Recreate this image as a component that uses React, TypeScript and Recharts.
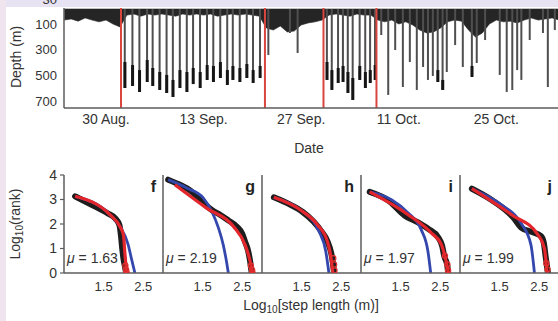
import React from 'react';
import { ComposedChart, Area, Bar, Line, Scatter, XAxis, YAxis, ReferenceLine } from 'recharts';

const FONT = '"Liberation Sans", Arial, Helvetica, sans-serif';
const TEXT = '#333333';
const AXIS = '#5c5c5c';

// ---------------- top panel: dive depth record ----------------
const dateTickDays = [0, 14, 28, 42, 56]; // days after 30 Aug.
const dateTickLabels = ['30 Aug.', '13 Sep.', '27 Sep.', '11 Oct.', '25 Oct.'];
const depthTickValues = [30, 100, 300, 500, 700];
const phaseChangeDays = [2.15, 22.8, 31.2, 38.8];
const surfaceDepth = 58;
const shallowScale = 2.78; // the depth axis is stretched above 100 m

const bandDays = [-6, -5, -4, -3, -2, -1, 0, 1, 2, 3, 4, 5, 6, 7, 8, 9, 10, 11, 12, 13, 14, 15, 16, 17, 18, 19, 20, 21, 22, 23, 24, 25, 26, 27, 28, 29, 30, 31, 32, 33, 34, 35, 36, 37, 38, 39, 40, 41, 42, 43, 44, 45, 46, 47, 48, 49, 50, 51, 52, 53, 54, 55, 56, 57, 58, 59, 60, 61, 62, 63, 64, 65, 66, 67, 68, 69, 70, 71];
const bandBottomDepth = [
  89, 86, 92, 83, 89, 94, 89, 100, 123,
  75, 72, 78, 72, 75, 72, 75, 78, 72, 75, 72, 75, 72, 78, 75, 72, 75, 72, 75, 78,
  131, 147, 116, 162, 155, 108, 97, 94, 89,
  75, 72, 75, 78, 72, 75, 75,
  89, 94, 89, 100, 94, 108, 147, 170, 162, 131, 94, 89, 92, 147, 201, 170, 100, 89, 94, 92, 97, 89, 83, 89, 86, 83, 89, 80, 86, 83, 89, 83, 83,
];

const diveDays = [
  2.7, 3.8, 4.8, 5.9, 6.7, 7.7, 8.7, 9.6, 10.6, 11.6, 12.5, 13.5, 14.5, 15.4, 16.4, 17.4, 18.2, 19.2, 20.2, 21.1, 22.1,
  23.3, 26.4, 27.5,
  31.7, 32.4, 33.3, 34.0, 34.7, 35.4, 36.4, 37.2, 37.9, 38.6,
  39.5, 40.5, 41.5, 42.6, 43.6, 44.6, 45.5, 46.2, 46.9, 47.6, 48.3, 48.9, 50.1, 51.2, 52.5, 53.2, 54.4, 56.5, 57.5, 58.3, 59.0, 59.6, 60.8, 62.7, 63.4, 64.4,
];
const diveMaxDepth = [
  599, 583, 630, 552, 583, 614, 638, 669, 599, 630, 568, 599, 536, 552, 521, 575, 536, 552, 521, 560, 521,
  342, 170, 326,
  536, 614, 560, 552, 638, 692, 536, 599, 560, 536,
  186, 653, 303, 591, 396, 614, 435, 536, 505, 552, 614, 474, 264, 435, 513, 404, 225, 497, 630, 614, 459, 536, 225, 170, 591, 147,
];
const diveBottomTop: (number | null)[] = [
  396, 420, 459, 381, 443, 474, 497, 536, 459, 474, 443, 474, 420, 427, 396, 459, 427, 443, 412, 459, 427,
  null, null, null,
  396, 459, 443, 427, 474, 521, 427, 474, 459, 420,
  null, null, null, null, null, null, null, null, null, 459, 536, null, null, null, 427, null, null, null, null, null, null, null, null, null, null, null,
];

// ---------------- bottom panels: rank vs step length ----------------
const panelLetters = ['f', 'g', 'h', 'i', 'j'];
const panelMu = ['1.63', '2.19', '', '1.97', '1.99'];
const stepTicks = [1.5, 2.5];
const rankTicks = [0, 1, 2, 3, 4];

const fObserved = [[0.78, 3.13], [1.2, 2.78], [1.6, 2.44], [1.8, 2.22], [1.9, 1.95], [1.94, 1.5], [1.97, 1.0], [2.0, 0.6], [2.04, 0.25], [2.07, 0]];
const fTruncated = [[0.78, 3.13], [1.66, 2.38], [1.91, 1.9], [2.0, 1.56], [2.04, 0.75], [2.08, 0]];
const fExponential = [[0.78, 3.13], [1.66, 2.38], [1.91, 1.9], [2.12, 1.16], [2.2, 0.61], [2.29, 0]];
const fTail = [[2.05, 0.3], [2.07, 0.12], [2.08, 0.02]];

const gObserved = [[0.63, 3.81], [0.9, 3.62], [1.2, 3.35], [1.52, 2.85], [1.75, 2.55], [1.94, 2.38], [2.15, 2.15], [2.36, 1.9], [2.5, 1.6], [2.57, 1.29], [2.65, 0.9], [2.7, 0.48], [2.74, 0]];
const gTruncated = [[0.8, 3.6], [1.6, 2.65], [2.28, 1.9], [2.57, 1.16], [2.7, 0.48], [2.76, 0]];
const gExponential = [[0.63, 3.81], [1.1, 3.47], [1.52, 3.06], [1.73, 2.52], [1.9, 1.84], [2.02, 1.16], [2.1, 0.5], [2.15, 0]];
const gTail = [[2.72, 0.3], [2.75, 0.12], [2.76, 0.02]];

const hObserved = [[0.8, 3.09], [1.2, 2.8], [1.52, 2.5], [1.8, 2.1], [2.0, 1.7], [2.15, 1.3], [2.25, 0.8], [2.3, 0.3], [2.32, 0]];
const hTruncated = [[0.8, 3.09], [1.52, 2.52], [1.9, 1.97], [2.15, 1.29], [2.23, 0.75], [2.29, 0]];
const hExponential = [[0.8, 3.09], [1.52, 2.52], [1.8, 2.1], [1.94, 1.7], [2.11, 0.89], [2.19, 0]];
const hTail = [[2.3, 0.6], [2.32, 0.35], [2.33, 0.1]];

const iObserved = [[0.72, 3.31], [1.2, 2.95], [1.6, 2.35], [1.9, 2.1], [2.2, 1.8], [2.45, 1.45], [2.55, 1.1], [2.6, 0.7], [2.68, 0.3], [2.7, 0]];
const iTruncated = [[0.72, 3.31], [1.69, 2.38], [2.28, 1.63], [2.53, 1.16], [2.65, 0.48], [2.71, 0]];
const iExponential = [[0.72, 3.31], [1.27, 2.99], [1.69, 2.45], [2.02, 1.77], [2.19, 0.89], [2.26, 0]];
const iTail = [[2.62, 0.7], [2.68, 0.35], [2.7, 0.1]];

const jObserved = [[0.8, 3.44], [1.3, 2.98], [1.86, 2.24], [2.04, 1.86], [2.3, 1.68], [2.55, 1.5], [2.62, 1.2], [2.66, 0.7], [2.72, 0]];
const jTruncated = [[0.8, 3.44], [1.8, 2.38], [2.47, 1.56], [2.63, 1.02], [2.7, 0]];
const jExponential = [[0.8, 3.44], [1.54, 2.79], [2.04, 2.04], [2.29, 1.16], [2.38, 0]];
const jTail = [[2.68, 0.4], [2.71, 0.15]];

// ---------------- helpers ----------------
const toAxis = (d: number) => (d >= 100 ? d : 100 - (100 - d) * shallowScale);
const fromAxis = (a: number) => (a >= 100 ? a : 100 - (100 - a) / shallowScale);
const depthTickAxis = depthTickValues.map(toAxis);
const fmtDepth = (v: number) => String(Math.round(fromAxis(v)));
const fmtDate = (v: number) => {
  const i = dateTickDays.indexOf(v);
  return i >= 0 ? dateTickLabels[i] : '';
};

const bandRows = bandDays.map((day, i) => ({ day, band: [toAxis(surfaceDepth), toAxis(bandBottomDepth[i])] }));
const spanRows = diveDays.map((day, i) => ({ day, span: [toAxis(surfaceDepth), diveMaxDepth[i]] }));
const blobRows = diveDays
  .map((day, i) => ({ day, bt: diveBottomTop[i], mx: diveMaxDepth[i] }))
  .filter((r) => r.bt !== null)
  .map((r) => ({ day: r.day, blob: [r.bt as number, r.mx] }));

const toPts = (a: number[][]) => a.map(([x, y]) => ({ x, y }));
const panels = [
  { obs: fObserved, tr: fTruncated, ex: fExponential, tail: fTail },
  { obs: gObserved, tr: gTruncated, ex: gExponential, tail: gTail },
  { obs: hObserved, tr: hTruncated, ex: hExponential, tail: hTail },
  { obs: iObserved, tr: iTruncated, ex: iExponential, tail: iTail },
  { obs: jObserved, tr: jTruncated, ex: jExponential, tail: jTail },
].map((p, i) => ({
  letter: panelLetters[i],
  mu: panelMu[i],
  obs: toPts(p.obs),
  tr: toPts(p.tr),
  ex: toPts(p.ex),
  tail: toPts(p.tail),
}));

const X_DOMAIN: [number, number] = [-6.03, 73.74];
const Y_DOMAIN: [number, number] = [-24.7, 754.7];
const TOP_W = 620;
const TOP_H = 160;
const axisLine = { stroke: AXIS, strokeWidth: 1.5 };
const tickLine = { stroke: AXIS, strokeWidth: 1.2 };

const PANEL_LEFTS = [64, 163, 262, 361, 460];
const PANEL_W = 99;
const PANEL_H = 98;
const PANEL_MT = 12;
const STEP_DOMAIN: [number, number] = [0.5, 3.0];
const RANK_DOMAIN: [number, number] = [0, 4];

const hiddenTopAxes = (
  <>
    <XAxis dataKey="day" type="number" domain={X_DOMAIN} allowDataOverflow hide />
    <YAxis type="number" reversed domain={Y_DOMAIN} allowDataOverflow hide />
  </>
);

function Panel({ p, index }: { p: any; index: number }) {
  const L = PANEL_LEFTS[index];
  const tailShape = (props: any) => (
    <circle cx={props.cx} cy={props.cy} r={2.6} fill="none" stroke="#e0302f" strokeWidth={1.2} />
  );
  return (
    <>
      <div style={{ position: 'absolute', left: L - 30, top: 175 - PANEL_MT }}>
        <ComposedChart width={30 + PANEL_W + 5} height={PANEL_MT + PANEL_H + 30} margin={{ top: PANEL_MT, right: 5, left: 0, bottom: 0 }}>
          <XAxis xAxisId="x" dataKey="x" type="number" domain={STEP_DOMAIN} allowDataOverflow ticks={stepTicks} interval={0}
            tickFormatter={(v: number) => v.toFixed(1)} tickLine={false} tickSize={6} tickMargin={3} height={30}
            axisLine={axisLine} tick={{ fontSize: 13, fill: TEXT, fontFamily: FONT }} />
          <XAxis xAxisId="xm" dataKey="x" type="number" domain={STEP_DOMAIN} allowDataOverflow ticks={stepTicks} interval={0}
            mirror tick={false} tickSize={5} tickLine={tickLine} axisLine={false} />
          <XAxis xAxisId="xt" orientation="top" dataKey="x" type="number" domain={STEP_DOMAIN} allowDataOverflow
            tick={false} tickLine={false} height={0} axisLine={axisLine} />
          <YAxis yAxisId="y" dataKey="y" type="number" domain={RANK_DOMAIN} allowDataOverflow ticks={rankTicks} interval={0}
            width={30} tickSize={4} tickMargin={3} tickLine={tickLine} axisLine={axisLine}
            tick={index === 0 ? { fontSize: 14, fill: TEXT, fontFamily: FONT } : false} />
          <YAxis yAxisId="ym" dataKey="y" type="number" domain={RANK_DOMAIN} allowDataOverflow ticks={rankTicks} interval={0}
            mirror tick={false} tickSize={4} tickLine={tickLine} axisLine={false} />
          <YAxis yAxisId="yr" orientation="right" dataKey="y" type="number" domain={RANK_DOMAIN} allowDataOverflow
            width={0} tick={false} tickLine={false} axisLine={axisLine} />
          <Line xAxisId="x" yAxisId="y" data={p.obs} dataKey="y" type="monotone" stroke="#1d1d1d" strokeWidth={6}
            strokeLinecap="round" strokeLinejoin="round" dot={false} isAnimationActive={false} />
          <Line xAxisId="x" yAxisId="y" data={p.ex} dataKey="y" type="monotone" stroke="#3347ad" strokeWidth={2.8}
            dot={false} isAnimationActive={false} />
          <Line xAxisId="x" yAxisId="y" data={p.tr} dataKey="y" type="monotone" stroke="#e3262b" strokeWidth={3.2}
            dot={false} isAnimationActive={false} />
          <Scatter xAxisId="x" yAxisId="y" data={p.tail} shape={tailShape} isAnimationActive={false} />
        </ComposedChart>
      </div>
      <div style={{ position: 'absolute', left: L + PANEL_W - 7, top: 179, transform: 'translateX(-100%)', fontSize: 16, lineHeight: '16px', fontWeight: 'bold', color: '#222' }}>
        {p.letter}
      </div>
      {p.mu ? (
        <div style={{ position: 'absolute', left: L + 3, top: 250, fontSize: 14, lineHeight: '16px', color: TEXT, whiteSpace: 'nowrap' }}>
          <span style={{ fontStyle: 'italic' }}>μ</span> = {p.mu}
        </div>
      ) : null}
    </>
  );
}

export default function App() {
  return (
    <div style={{ position: 'fixed', left: 0, top: 0, width: 558, height: 321, overflow: 'hidden', background: '#ffffff', fontFamily: FONT }}>
      <div style={{ position: 'absolute', left: 0, top: 0, width: 558, height: 7, background: '#e8e3f2' }} />
      <div style={{ position: 'absolute', left: 0, top: 0, width: 6, height: 321, background: '#f0e5ef' }} />

      {/* top panel layers */}
      <div style={{ position: 'absolute', left: 0, top: -12 }}>
        <ComposedChart width={TOP_W} height={TOP_H} data={bandRows} margin={{ top: 20, right: 0, bottom: 40, left: 64 }}>
          {hiddenTopAxes}
          <Area dataKey="band" type="linear" fill="#252525" fillOpacity={1} stroke="#252525" strokeWidth={0.6} isAnimationActive={false} />
        </ComposedChart>
      </div>
      <div style={{ position: 'absolute', left: 0, top: -12 }}>
        <ComposedChart width={TOP_W} height={TOP_H} data={spanRows} margin={{ top: 20, right: 0, bottom: 40, left: 64 }}>
          {hiddenTopAxes}
          <Bar dataKey="span" barSize={2} fill="#4f4f4f" isAnimationActive={false} />
        </ComposedChart>
      </div>
      <div style={{ position: 'absolute', left: 0, top: -12 }}>
        <ComposedChart width={TOP_W} height={TOP_H} data={blobRows} margin={{ top: 20, right: 0, bottom: 0, left: 0 }}>
          <XAxis dataKey="day" type="number" domain={X_DOMAIN} allowDataOverflow ticks={dateTickDays} interval={0}
            tickFormatter={fmtDate} tickLine={false} tickSize={4} tickMargin={2} height={40} axisLine={axisLine}
            tick={{ fontSize: 14, fill: TEXT, fontFamily: FONT }} />
          <XAxis xAxisId="m" dataKey="day" type="number" domain={X_DOMAIN} allowDataOverflow ticks={dateTickDays} interval={0}
            mirror tick={false} tickSize={4} tickLine={tickLine} axisLine={false} />
          <YAxis type="number" reversed domain={Y_DOMAIN} allowDataOverflow ticks={depthTickAxis} interval={0}
            tickFormatter={fmtDepth} tickLine={false} tickSize={5} tickMargin={2} width={64} axisLine={axisLine}
            tick={{ fontSize: 13, fill: TEXT, fontFamily: FONT }} />
          <YAxis yAxisId="m" type="number" reversed domain={Y_DOMAIN} allowDataOverflow ticks={depthTickAxis} interval={0}
            mirror tick={false} tickSize={5} tickLine={tickLine} axisLine={false} />
          <Bar dataKey="blob" barSize={3} fill="#151515" isAnimationActive={false} />
          {phaseChangeDays.map((d) => (
            <ReferenceLine key={d} x={d} stroke="#d8463e" strokeWidth={2} />
          ))}
        </ComposedChart>
      </div>

      <div style={{ position: 'absolute', left: 16, top: 57, transform: 'translate(-50%, -50%) rotate(-90deg)', fontSize: 14, color: TEXT, whiteSpace: 'nowrap' }}>
        Depth (m)
      </div>
      <div style={{ position: 'absolute', left: 309, top: 147.5, transform: 'translate(-50%, -50%)', fontSize: 14, color: TEXT, whiteSpace: 'nowrap' }}>
        Date
      </div>

      {panels.map((p, i) => (
        <Panel key={p.letter} p={p} index={i} />
      ))}

      <div style={{ position: 'absolute', left: 16, top: 224, transform: 'translate(-50%, -50%) rotate(-90deg)', fontSize: 14, color: TEXT, whiteSpace: 'nowrap' }}>
        Log<sub style={{ fontSize: 10, verticalAlign: '-0.3em' }}>10</sub>(rank)
      </div>
      <div style={{ position: 'absolute', left: 311, top: 306, transform: 'translate(-50%, -50%)', fontSize: 14, color: TEXT, whiteSpace: 'nowrap' }}>
        Log<sub style={{ fontSize: 10, verticalAlign: '-0.3em' }}>10</sub>[step length (m)]
      </div>
    </div>
  );
}
